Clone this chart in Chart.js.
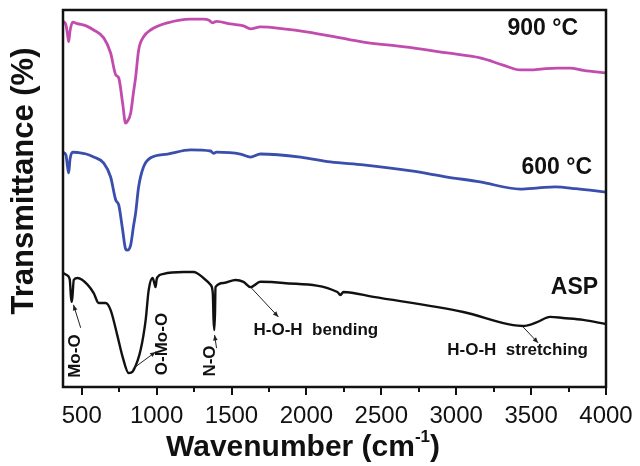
<!DOCTYPE html>
<html>
<head>
<meta charset="utf-8">
<script src="https://cdn.jsdelivr.net/npm/chart.js@4"></script>
<style>
  html, body { margin: 0; padding: 0; background: #fff; }
  canvas { display: block; }
</style>
</head>
<body>
<canvas id="ftirChart" width="640" height="466"></canvas>
<script>
// x axis: wavenumber (cm-1)
const xMin = 375;
const xMax = 4000;
const xTicks = [500, 750, 1000, 1250, 1500, 1750, 2000, 2250, 2500, 2750, 3000, 3250, 3500, 3750, 4000];

// 900 C sample
const wn900 = [377, 395, 405, 413, 422, 440, 470, 530, 580, 647, 693, 727, 747, 773, 793, 805, 827, 845, 860, 880, 913, 960, 1073, 1227, 1313, 1350, 1373, 1400, 1493, 1580, 1627, 1693, 1847, 2000, 2293, 2380, 2700, 2940, 3160, 3313, 3427, 3493, 3580, 3673, 3760, 3850, 4000];
const t900 = [97.0, 96.0, 93.5, 91.6, 94.5, 96.8, 96.4, 95.8, 94.7, 92.6, 88.6, 82.8, 82.0, 75.3, 70.0, 70.5, 72.7, 78.0, 82.2, 89.4, 92.9, 94.7, 96.6, 97.6, 97.6, 97.3, 96.6, 97.0, 96.3, 95.8, 95.0, 95.5, 95.0, 94.2, 92.1, 91.5, 90.0, 88.6, 87.3, 85.4, 84.1, 84.1, 84.4, 84.6, 84.6, 84.0, 83.3];

// 600 C sample
const wn600 = [377, 395, 405, 413, 422, 440, 470, 530, 580, 647, 693, 727, 747, 773, 793, 805, 827, 845, 860, 880, 913, 960, 1073, 1227, 1360, 1380, 1400, 1560, 1627, 1693, 1960, 2160, 2380, 2700, 2940, 3160, 3427, 3550, 3660, 3800, 4000];
const t600 = [62.2, 61.5, 58.5, 56.8, 60.5, 62.3, 62.2, 61.8, 61.0, 59.4, 55.7, 49.6, 48.3, 41.7, 36.6, 36.3, 37.7, 42.5, 46.2, 53.1, 58.4, 60.8, 61.8, 62.9, 62.6, 62.0, 62.3, 61.8, 61.0, 61.8, 61.0, 59.7, 58.9, 57.3, 55.7, 54.4, 52.5, 52.8, 53.1, 52.6, 51.7];

// as-prepared sample
const wnASP = [377, 400, 420, 428, 433, 438, 447, 473, 540, 580, 613, 660, 693, 740, 773, 813, 830, 847, 893, 927, 947, 973, 985, 993, 1000, 1007, 1047, 1180, 1247, 1313, 1360, 1375, 1380, 1385, 1390, 1393, 1447, 1527, 1580, 1627, 1693, 1847, 2207, 2227, 2247, 2447, 3047, 3380, 3447, 3540, 3627, 3713, 3847, 4000];
const tASP = [30.2, 29.7, 28.5, 24.0, 22.6, 24.0, 28.4, 28.9, 27.1, 24.9, 22.3, 22.3, 20.4, 13.3, 8.0, 3.7, 3.8, 4.5, 9.8, 17.8, 25.7, 28.9, 27.5, 26.5, 28.5, 29.2, 30.0, 30.5, 30.5, 28.9, 27.1, 24.9, 18.0, 15.1, 20.0, 26.5, 27.6, 28.4, 27.9, 26.5, 27.9, 27.6, 25.2, 24.4, 25.2, 23.9, 19.9, 16.4, 16.2, 17.2, 18.6, 18.3, 17.8, 16.7];

const seriesLabels = ["900 \u00B0C", "600 \u00B0C", "ASP"];

// band assignments: [text, wavenumber, T, vertical?]
const bandLabels = [
    ["Mo-O", 460, 8.2, true],
    ["O-Mo-O", 1040, 11.4, true],
    ["N-O", 1360, 6.9, true],
    ["H-O-H  bending", 1647, 15.1, false],
    ["H-O-H  stretching", 2940, 9.6, false]
];
// arrows: [fromX, fromY, toX, toY] in data units
const bandArrows = [
    [493, 15.7, 445, 21.8],
    [840, 4.8, 993, 9.3],
    [1400, 10.3, 1387, 13.8],
    [1627, 26.5, 1813, 18.6],
    [3447, 15.9, 3547, 11.7]
];

function toPoints(xs, ys) {
    return xs.map((x, i) => ({ x: x, y: ys[i] }));
}

const fontName = "'Liberation Sans', Arial, sans-serif";

const decorPlugin = {
    id: "decor",
    afterDatasetsDraw(chart) {
        const ctx = chart.ctx;
        const a = chart.chartArea;
        const sx = chart.scales.x;
        const sy = chart.scales.y;
        ctx.save();
        // frame
        ctx.strokeStyle = "#111";
        ctx.lineWidth = 2.5;
        ctx.strokeRect(a.left, a.top, a.right - a.left, a.bottom - a.top);
        // x tick marks (outward)
        ctx.lineWidth = 2;
        xTicks.forEach(v => {
            const px = Math.round(sx.getPixelForValue(v));
            const len = v % 500 === 0 ? 8 : 5;
            ctx.beginPath();
            ctx.moveTo(px, a.bottom);
            ctx.lineTo(px, a.bottom + len);
            ctx.stroke();
        });

        // series labels
        ctx.fillStyle = "#111";
        ctx.font = "bold 23px " + fontName;
        ctx.textAlign = "right";
        ctx.textBaseline = "middle";
        ctx.fillText(seriesLabels[0], sx.getPixelForValue(3813), sy.getPixelForValue(95.0));
        ctx.fillText(seriesLabels[1], sx.getPixelForValue(3907), sy.getPixelForValue(58.1));
        ctx.fillText(seriesLabels[2], sx.getPixelForValue(3947), sy.getPixelForValue(26.3));

        // band labels
        ctx.font = "bold 17px " + fontName;
        bandLabels.forEach(b => {
            const px = sx.getPixelForValue(b[1]);
            const py = sy.getPixelForValue(b[2]);
            if (b[3]) {
                ctx.save();
                ctx.translate(px, py);
                ctx.rotate(-Math.PI / 2);
                ctx.textAlign = "center";
                ctx.fillText(b[0], 0, 0);
                ctx.restore();
            } else {
                ctx.textAlign = "left";
                ctx.fillText(b[0], px, py);
            }
        });

        // arrows
        ctx.strokeStyle = "#222";
        ctx.fillStyle = "#222";
        ctx.lineWidth = 1;
        bandArrows.forEach(ar => {
            const x1 = sx.getPixelForValue(ar[0]), y1 = sy.getPixelForValue(ar[1]);
            const x2 = sx.getPixelForValue(ar[2]), y2 = sy.getPixelForValue(ar[3]);
            const ang = Math.atan2(y2 - y1, x2 - x1);
            ctx.beginPath();
            ctx.moveTo(x1, y1);
            ctx.lineTo(x2, y2);
            ctx.stroke();
            ctx.beginPath();
            ctx.moveTo(x2, y2);
            ctx.lineTo(x2 - 6 * Math.cos(ang - 0.4), y2 - 6 * Math.sin(ang - 0.4));
            ctx.lineTo(x2 - 6 * Math.cos(ang + 0.4), y2 - 6 * Math.sin(ang + 0.4));
            ctx.closePath();
            ctx.fill();
        });

        // axis titles
        ctx.fillStyle = "#111";
        ctx.font = "bold 31px " + fontName;
        ctx.save();
        ctx.translate(24, 181);
        ctx.rotate(-Math.PI / 2);
        ctx.textAlign = "center";
        ctx.textBaseline = "middle";
        ctx.fillText("Transmittance (%)", 0, 0);
        ctx.restore();

        const main = "Wavenumber (cm";
        const sup = "-1";
        const tail = ")";
        ctx.font = "bold 30px " + fontName;
        const w1 = ctx.measureText(main).width;
        const w3 = ctx.measureText(tail).width;
        ctx.font = "bold 17px " + fontName;
        const w2 = ctx.measureText(sup).width;
        let x0 = 166;
        const yb = 456;
        ctx.textAlign = "left";
        ctx.textBaseline = "alphabetic";
        ctx.font = "bold 30px " + fontName;
        ctx.fillText(main, x0, yb);
        ctx.font = "bold 17px " + fontName;
        ctx.fillText(sup, x0 + w1, yb - 14);
        ctx.font = "bold 30px " + fontName;
        ctx.fillText(tail, x0 + w1 + w2, yb);
        ctx.restore();
    }
};

const ctx = document.getElementById("ftirChart").getContext("2d");
new Chart(ctx, {
    type: "line",
    data: {
        datasets: [
            {
                label: seriesLabels[0],
                data: toPoints(wn900, t900),
                borderColor: "#c24cae",
                borderWidth: 2.8
            },
            {
                label: seriesLabels[1],
                data: toPoints(wn600, t600),
                borderColor: "#3a4eac",
                borderWidth: 2.8
            },
            {
                label: seriesLabels[2],
                data: toPoints(wnASP, tASP),
                borderColor: "#111111",
                borderWidth: 2.4
            }
        ]
    },
    options: {
        responsive: false,
        animation: false,
        devicePixelRatio: 1,
        layout: { padding: { left: 0, right: 34, top: 10, bottom: 0 } },
        elements: {
            point: { radius: 0 },
            line: { cubicInterpolationMode: "monotone" }
        },
        plugins: {
            legend: { display: false },
            tooltip: { enabled: false }
        },
        scales: {
            x: {
                type: "linear",
                min: xMin,
                max: xMax,
                afterBuildTicks: s => { s.ticks = xTicks.map(v => ({ value: v })); },
                afterFit: s => { s.height = 79; s.paddingLeft = 0; s.paddingRight = 0; },
                grid: { display: false },
                border: { display: false },
                ticks: {
                    autoSkip: false,
                    maxRotation: 0,
                    padding: 7,
                    color: "#111",
                    font: { family: fontName, size: 24 },
                    callback: v => (v % 500 === 0 ? String(v) : "")
                }
            },
            y: {
                min: 0,
                max: 100,
                afterFit: s => { s.width = 63; s.paddingTop = 0; s.paddingBottom = 0; },
                grid: { display: false },
                border: { display: false },
                ticks: { display: false }
            }
        }
    },
    plugins: [decorPlugin]
});
</script>
</body>
</html>
